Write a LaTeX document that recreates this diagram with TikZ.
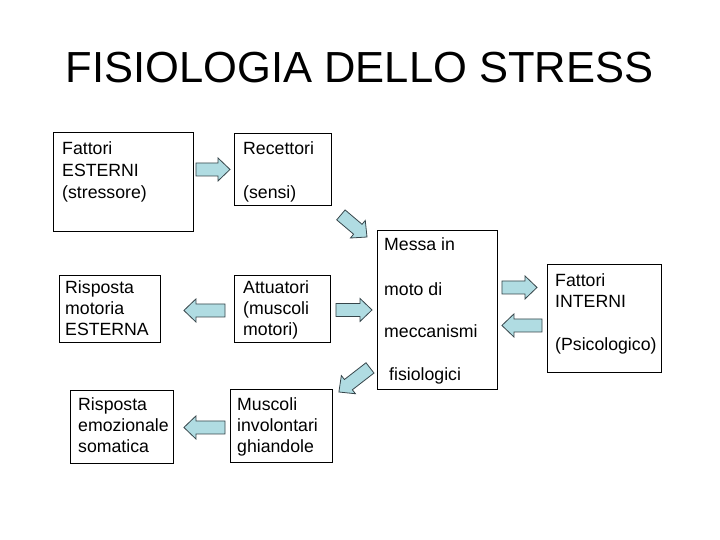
\documentclass[tikz,border=0pt]{standalone}
\usepackage{fontspec}
\setmainfont{Liberation Sans}
\usetikzlibrary{calc}
\definecolor{arrfill}{RGB}{176,220,226}
\definecolor{arrline}{RGB}{55,70,75}
\tikzset{
  box/.style={draw=black, line width=0.9pt, inner sep=0pt, anchor=north west},
  txt/.style={anchor=base west, inner sep=0pt, font=\fontsize{17.7}{21}\selectfont},
  blockarrow/.style={fill=arrfill, draw=arrline, line width=0.8pt, line join=miter},
}
\newcommand{\blockarr}[2]{%
  \coordinate (ba-h) at ($(#2)!12pt!(#1)$);
  \filldraw[blockarrow] ($(#1)!6.5pt!90:(#2)$) -- ($(ba-h)!6.5pt!90:(#2)$)
    -- ($(ba-h)!11.5pt!90:(#2)$) -- (#2) -- ($(ba-h)!11.5pt!-90:(#2)$)
    -- ($(ba-h)!6.5pt!-90:(#2)$) -- ($(#1)!6.5pt!-90:(#2)$) -- cycle;
}
\begin{document}
\begin{tikzpicture}[x=1pt,y=-1pt]
\useasboundingbox[fill=white] (0,0) rectangle (720,540);

% title
\node[anchor=base, inner sep=0pt, font=\fontsize{43.5}{50}\selectfont] (title) at (359.5,83) {FISIOLOGIA DELLO STRESS};

% boxes
\node[box, minimum width=140pt, minimum height=99pt] (b1) at (53,132) {};
\node[box, minimum width=97pt, minimum height=72pt] (b2) at (234,133) {};
\node[box, minimum width=120pt, minimum height=159pt] (mm) at (377,230) {};
\node[box, minimum width=114pt, minimum height=108pt] (fi) at (547,264) {};
\node[box, minimum width=101pt, minimum height=67pt] (rm) at (59,275) {};
\node[box, minimum width=96pt, minimum height=67pt] (at) at (234,275) {};
\node[box, minimum width=103pt, minimum height=73pt] (re) at (70,390) {};
\node[box, minimum width=102pt, minimum height=73pt] (mu) at (230,389) {};

% texts
\node[txt] (t1a) at (62,155) {Fattori};
\node[txt] (t1b) at (62,177) {ESTERNI};
\node[txt] (t1c) at (62,199) {(stressore)};

\node[txt] (t2a) at (243,155) {Recettori};
\node[txt] (t2b) at (243,199) {(sensi)};

\node[txt] (t3a) at (384,251) {Messa in};
\node[txt] (t3b) at (384,295) {moto di};
\node[txt] (t3c) at (384,337) {meccanismi};
\node[txt] (t3d) at (389,380) {fisiologici};

\node[txt] (t4a) at (555,286) {Fattori};
\node[txt] (t4b) at (555,307) {INTERNI};
\node[txt] (t4c) at (555,350) {(Psicologico)};

\node[txt] (t5a) at (65,293) {Risposta};
\node[txt] (t5b) at (65,314) {motoria};
\node[txt] (t5c) at (65,335) {ESTERNA};

\node[txt] (t6a) at (243,293) {Attuatori};
\node[txt] (t6b) at (243,314) {(muscoli};
\node[txt] (t6c) at (243,335) {motori)};

\node[txt] (t7a) at (78,410) {Risposta};
\node[txt] (t7b) at (78,431) {emozionale};
\node[txt] (t7c) at (78,452) {somatica};

\node[txt] (t8a) at (237,410) {Muscoli};
\node[txt] (t8b) at (237,431) {involontari};
\node[txt] (t8c) at (237,452) {ghiandole};

% arrow end points
\coordinate (a1s) at ($(b1.east |- b2.west)+(2,0)$);
\coordinate (a1e) at ($(b2.west)+(-4,0)$);
\coordinate (a2s) at ($(b2.south east)+(9,9)$);
\coordinate (a2e) at ($(mm.north west)+(-10,7)$);
\coordinate (a3s) at ($(at.east |- mm.west)+(5,0)$);
\coordinate (a3e) at ($(mm.west)+(-5,0)$);
\coordinate (a4s) at ($(mm.east)+(4,-22.5)$);
\coordinate (a4e) at ($(fi.west |- a4s)+(-10,0)$);
\coordinate (a5s) at ($(fi.west |- mm.east)+(-5,15.5)$);
\coordinate (a5e) at ($(mm.east |- a5s)+(4,0)$);
\coordinate (a6s) at ($(at.west |- mm.west)+(-9,0.5)$);
\coordinate (a6e) at ($(rm.east |- a6s)+(23,0)$);
\coordinate (a7s) at ($(mm.south west)+(-7,-22)$);
\coordinate (a7e) at ($(mu.north east)+(6,3)$);
\coordinate (a8s) at ($(mu.west)+(-5,1.5)$);
\coordinate (a8e) at ($(re.east |- a8s)+(10,0)$);

\blockarr{a1s}{a1e}
\blockarr{a2s}{a2e}
\blockarr{a3s}{a3e}
\blockarr{a4s}{a4e}
\blockarr{a5s}{a5e}
\blockarr{a6s}{a6e}
\blockarr{a7s}{a7e}
\blockarr{a8s}{a8e}
\end{tikzpicture}
\end{document}
